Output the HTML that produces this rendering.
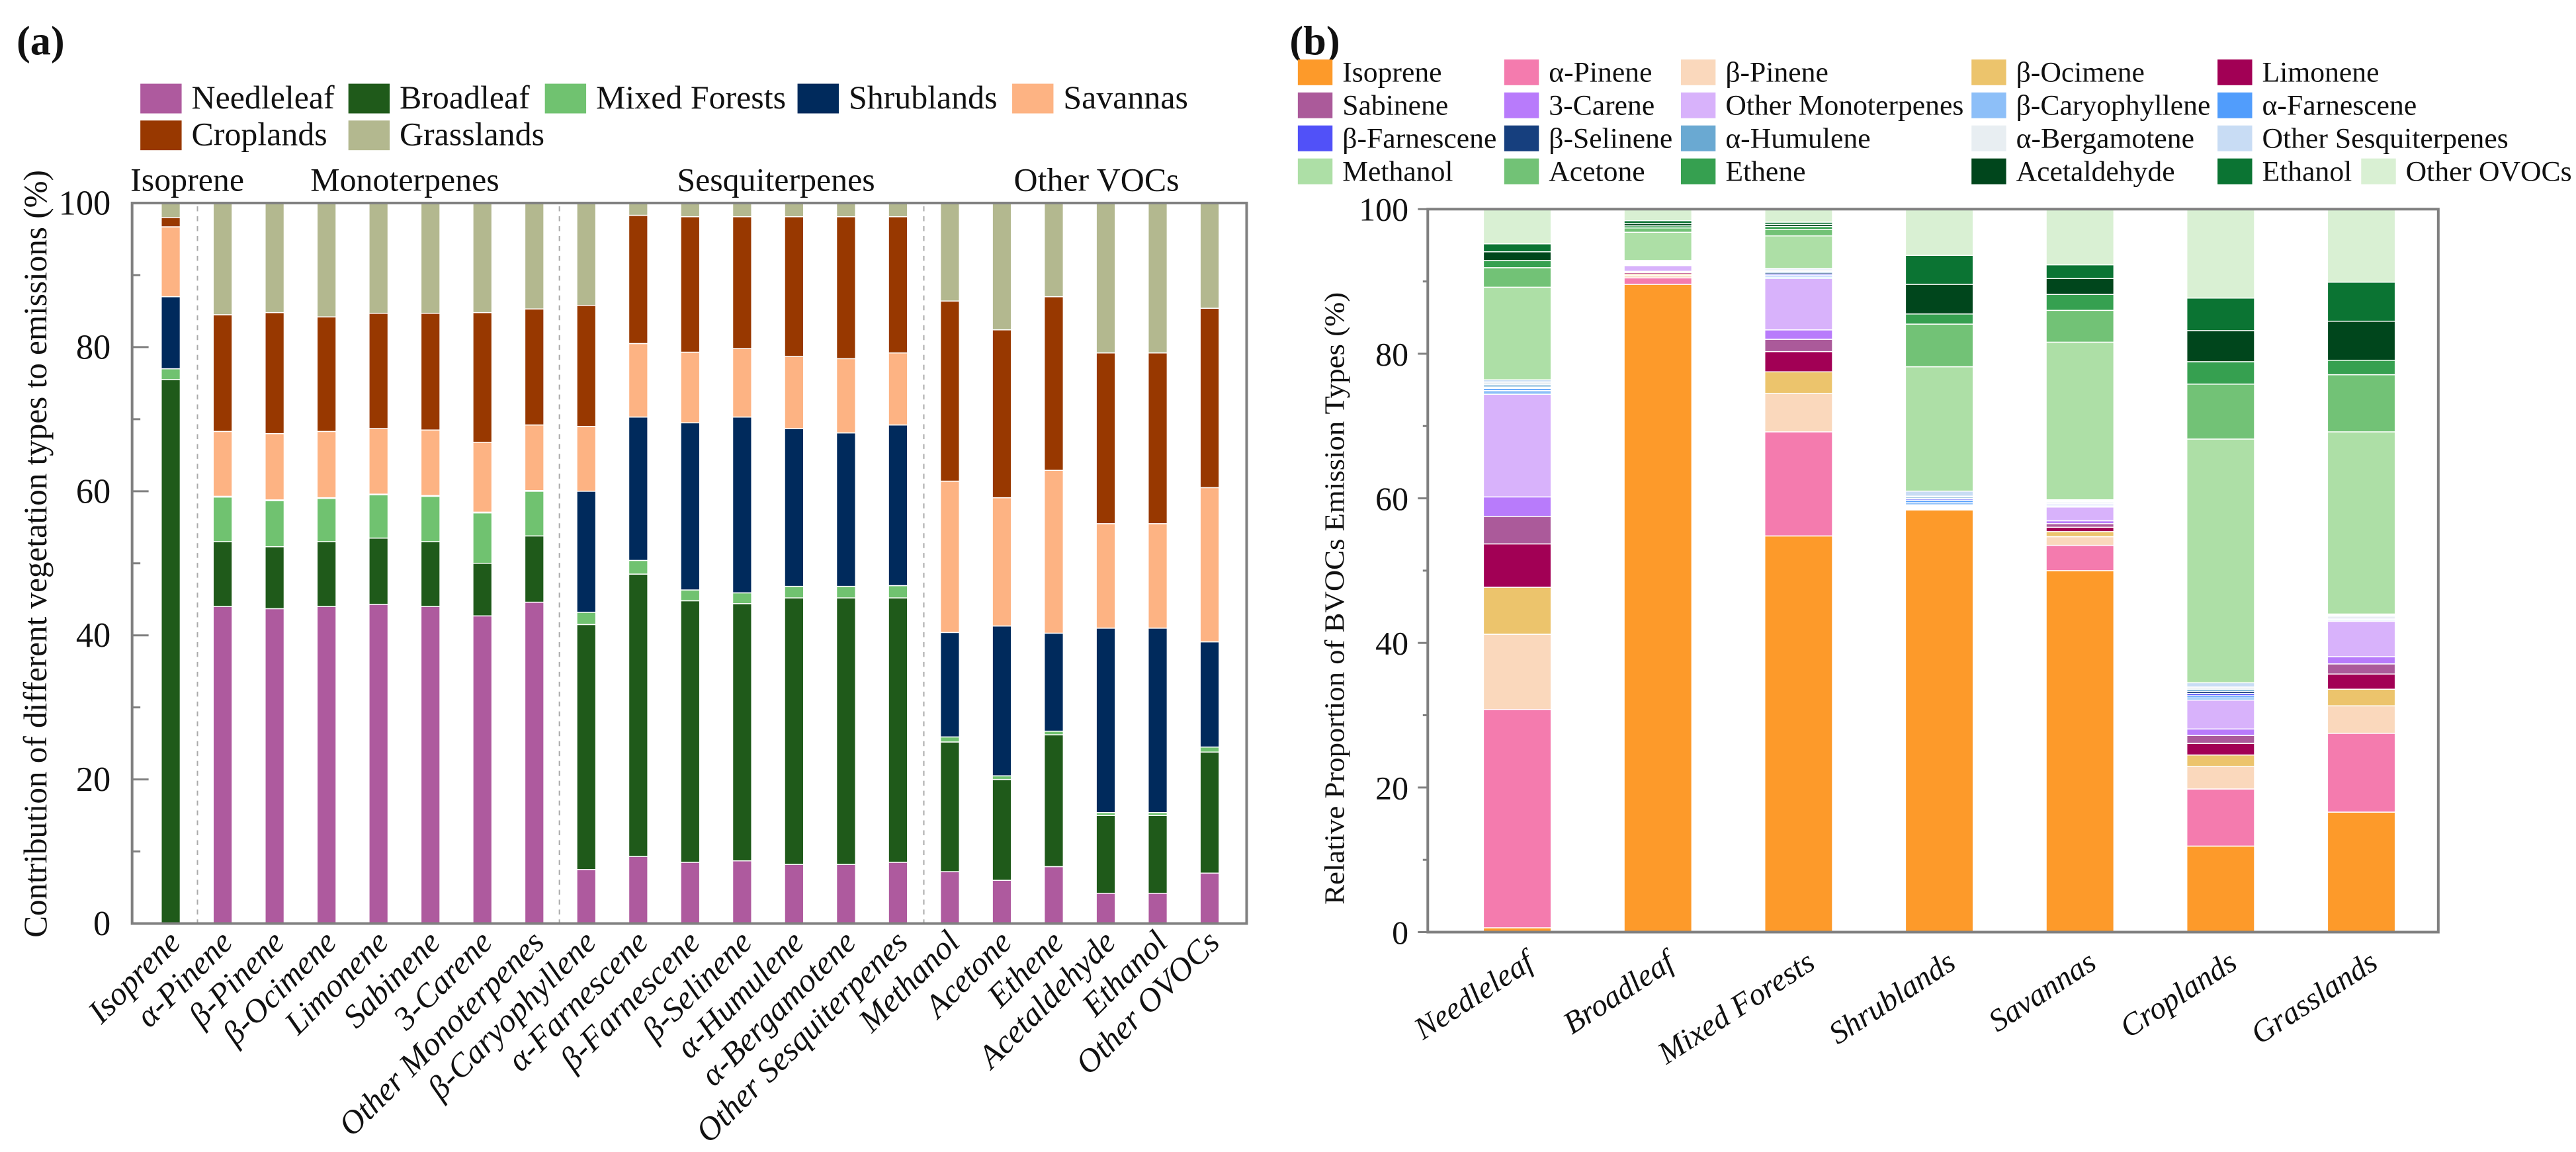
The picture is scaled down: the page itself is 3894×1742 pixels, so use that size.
<!DOCTYPE html>
<html><head><meta charset="utf-8"><style>
html,body{margin:0;padding:0;background:#fff}
svg{display:block}
svg text{font-family:"Liberation Serif","DejaVu Serif",serif;fill:#111}
</style></head><body>
<svg id="s" xmlns="http://www.w3.org/2000/svg" width="3894" height="1742" viewBox="0 0 1560.1 697.9" font-family="'Liberation Serif', 'DejaVu Serif', serif">
<text x="10" y="33" font-size="25" font-weight="bold" font-family="'Liberation Serif', serif">(a)</text>
<text x="781" y="33" font-size="25" font-weight="bold" font-family="'Liberation Serif', serif">(b)</text>
<g id="ga"></g>
<g id="gb"></g>
</svg>
<script>
// ---------- Panel A data ----------
const catsA = ["Isoprene","α-Pinene","β-Pinene","β-Ocimene","Limonene","Sabinene","3-Carene","Other Monoterpenes","β-Caryophyllene","α-Farnescene","β-Farnescene","β-Selinene","α-Humulene","α-Bergamotene","Other Sesquiterpenes","Methanol","Acetone","Ethene","Acetaldehyde","Ethanol","Other OVOCs"];
const vegNames = ["Needleleaf","Broadleaf","Mixed Forests","Shrublands","Savannas","Croplands","Grasslands"];
const needleleaf = [0,44,43.7,44,44.3,44,42.7,44.6,7.5,9.3,8.5,8.7,8.2,8.2,8.5,7.2,6,7.9,4.2,4.2,7];
const broadleaf = [75.5,9,8.6,9,9.2,9,7.3,9.2,34,39.2,36.3,35.7,37,37,36.7,18,14,18.3,10.8,10.8,16.8];
const mixedForests = [1.5,6.2,6.4,6,6,6.3,7,6.2,1.7,1.9,1.5,1.5,1.6,1.6,1.7,0.7,0.5,0.5,0.4,0.4,0.7];
const shrublands = [10,0.1,0.1,0.1,0.1,0.1,0.1,0.1,16.8,19.9,23.2,24.4,21.9,21.3,22.3,14.5,20.8,13.6,25.6,25.6,14.6];
const savannas = [9.7,9,9.2,9.2,9.1,9.1,9.7,9.1,9,10.2,9.8,9.5,10,10.3,10,21,17.8,22.6,14.5,14.5,21.4];
const croplands = [1.3,16.2,16.8,15.9,16,16.2,18,16.1,16.8,17.8,18.8,18.3,19.4,19.7,18.9,25,23.3,24.1,23.7,23.7,24.9];
const grasslands = [2,15.5,15.2,15.8,15.3,15.3,15.2,14.7,14.2,1.7,1.9,1.9,1.9,1.9,1.9,13.6,17.6,13,20.8,20.8,14.6];
const ticksA = [0,20,40,60,80,100];
const groupsA = ["Isoprene","Monoterpenes","Sesquiterpenes","Other VOCs"];

// ---------- Panel B data ----------
const catsB = ["Needleleaf","Broadleaf","Mixed Forests","Shrublands","Savannas","Croplands","Grasslands"];
const speciesNames = ["Isoprene","α-Pinene","β-Pinene","β-Ocimene","Limonene","Sabinene","3-Carene","Other Monoterpenes","β-Caryophyllene","α-Farnescene","β-Farnescene","β-Selinene","α-Humulene","α-Bergamotene","Other Sesquiterpenes","Methanol","Acetone","Ethene","Acetaldehyde","Ethanol","Other OVOCs"];
const isoprene = [0.6,89.6,54.8,58.4,50,11.9,16.6];
const aPinene = [30.2,0.9,14.4,0.1,3.5,7.9,10.9];
const bPinene = [10.4,0.3,5.3,0.1,1.2,3.1,3.8];
const bOcimene = [6.5,0.2,3.0,0.1,0.7,1.6,2.3];
const limonene = [6.0,0.2,2.8,0.1,0.6,1.6,2.1];
const sabinene = [3.8,0.1,1.7,0.1,0.5,1.1,1.4];
const carene = [2.7,0.1,1.3,0.1,0.4,0.9,1.0];
const otherMono = [14.2,0.8,7.1,0.1,1.9,4.0,4.9];
const bCary = [0.5,0.1,0.2,0.3,0.15,0.3,0.15];
const aFarn = [0.3,0.1,0.2,0.3,0.15,0.3,0.15];
const bFarn = [0.1,0.1,0.2,0.2,0.15,0.3,0.15];
const bSel = [0.1,0.1,0.2,0.1,0.15,0.3,0.15];
const aHum = [0.3,0.1,0.2,0.2,0.15,0.3,0.15];
const aBerg = [0.4,0.1,0.2,0.1,0.15,0.3,0.15];
const otherSesq = [0.3,0.1,0.2,0.7,0.1,0.6,0.1];
const methanol = [12.8,3.9,4.5,17.2,21.8,33.7,25.2];
const acetone = [2.7,0.6,0.9,5.9,4.4,7.6,7.9];
const ethene = [1.0,0.3,0.4,1.4,2.2,3.1,2.0];
const acetaldehyde = [1.2,0.3,0.3,4.1,2.2,4.3,5.4];
const ethanol = [1.1,0.4,0.3,4.0,1.9,4.5,5.4];
const otherOVOCs = [4.8,1.6,1.8,6.4,7.7,12.3,10.1];
const ticksB = [0,20,40,60,80,100];

const NS="http://www.w3.org/2000/svg";
const FF="'Liberation Serif', 'DejaVu Serif', serif";
function mk(tag, attrs, parent){const e=document.createElementNS(NS,tag);for(const k in attrs)e.setAttribute(k,attrs[k]);if(tag==='text')e.setAttribute('font-family',FF);parent.appendChild(e);return e;}

// ========== Panel A ==========
(function(){
const g=document.getElementById('ga');
const L=80,R=755,T=123,B=559.5;
const y=v=>B-(B-T)*v/100;
const x=i=>103.4+i*31.46;
const bw=11.5;
const series=[needleleaf,broadleaf,mixedForests,shrublands,savannas,croplands,grasslands];
const cols=["#ae5a9e","#1f5a1a","#70c270","#002a5c","#fdb383","#983800","#b3b88f"];
[119.6,338.8,559.5].forEach(sx=>{
 const l=mk('line',{x1:sx,x2:sx,y1:T+2,y2:B,stroke:"#aaa","stroke-width":0.8,"stroke-dasharray":"3,3"},g);
 
 
});
catsA.forEach((c,i)=>{
 let cum=0;
 series.forEach((s,k)=>{
  const v=s[i];
  const r=mk('rect',{x:x(i)-bw/2,y:y(cum+v),width:bw,height:Math.max(0,y(cum)-y(cum+v)),fill:cols[k],stroke:"#fff","stroke-width":0.6},g);
  
  
  cum+=v;
 });
 const t=mk('text',{x:x(i)+7,y:572,"font-size":20,"font-style":"italic","text-anchor":"end",transform:`rotate(-45 ${x(i)+7} 572)`},g);
 t.textContent=c;
 
 
});
const fr=mk('path',{d:`M${L} ${B} L${L} ${T} L${R} ${T} L${R} ${B} Z`,fill:"none",stroke:"#808080","stroke-width":1.6},g);


for(let v=0;v<=100;v+=10){
 const tk=mk('line',{x1:L,x2:L+(v%20===0?10:5),y1:y(v),y2:y(v),stroke:"#808080","stroke-width":1.2},g);
 
 
}
ticksA.forEach(v=>{
 const t=mk('text',{x:67,y:y(v)+7,"font-size":21,"text-anchor":"end"},g);
 t.textContent=v;
 
 
});
const gx=[79,188,410,614];
groupsA.forEach((n,i)=>{
 const t=mk('text',{x:gx[i],y:115.5,"font-size":20},g);
 t.textContent=n;
 
 
});
const yl=mk('text',{x:28,y:335.5,"font-size":20,"text-anchor":"middle",textLength:465,lengthAdjust:"spacingAndGlyphs",transform:"rotate(-90 28 335.5)"},g);
yl.textContent="Contribution of  different vegetation types to emissions (%)";


const lx=[85,211,330,483,613,85,211], ly=[50.7,50.7,50.7,50.7,50.7,73,73];
vegNames.forEach((n,k)=>{
 const r=mk('rect',{x:lx[k],y:ly[k],width:25,height:18,fill:cols[k]},g);
 
 
 const t=mk('text',{x:lx[k]+31,y:ly[k]+15,"font-size":20},g);
 t.textContent=n;
 
 
});
})();

// ========== Panel B ==========
(function(){
const g=document.getElementById('gb');
const L=864.7,R=1476.7,T=126.7,B=564.7;
const y=v=>B-(B-T)*v/100;
const x=i=>918.9+i*85.2;
const bw=41;
const series=[isoprene,aPinene,bPinene,bOcimene,limonene,sabinene,carene,otherMono,bCary,aFarn,bFarn,bSel,aHum,aBerg,otherSesq,methanol,acetone,ethene,acetaldehyde,ethanol,otherOVOCs];
const cols=["#fd9a2a","#f47bae","#fad8bc","#ecc46c","#a20055","#ab5a9a","#b87bfb","#d8b2fb","#8dbff8","#519dfc","#5151f8","#163f7e","#6aa9d2","#e8eef2","#c8dcf4","#addfa6","#72c276","#36a050","#00461c","#0b7433","#d9f0d3"];
catsB.forEach((c,i)=>{
 let cum=0;
 series.forEach((s,k)=>{
  const v=s[i];
  const r=mk('rect',{x:x(i)-bw/2,y:y(cum+v),width:bw,height:Math.max(0,y(cum)-y(cum+v)),fill:cols[k],stroke:"#fff","stroke-width":0.6},g);
  
  
  cum+=v;
 });
 const t=mk('text',{x:x(i)+11,y:586,"font-size":19,"font-style":"italic","text-anchor":"end",transform:`rotate(-33 ${x(i)+11} 586)`},g);
 t.textContent=c;
 
 
});
const fr=mk('path',{d:`M${L} ${B} L${L} ${T} L${R} ${T} L${R} ${B} Z`,fill:"none",stroke:"#808080","stroke-width":1.6},g);


for(let v=0;v<=100;v+=10){
 const tk=mk('line',{x1:L-(v%20===0?6:3),x2:L,y1:y(v),y2:y(v),stroke:"#808080","stroke-width":1.2},g);
 
 
}
ticksB.forEach(v=>{
 const t=mk('text',{x:853,y:y(v)+7,"font-size":20,"text-anchor":"end"},g);
 t.textContent=v;
 
 
});
const yl=mk('text',{x:814,y:362.5,"font-size":17,"text-anchor":"middle",textLength:371,lengthAdjust:"spacingAndGlyphs",transform:"rotate(-90 814 362.5)"},g);
yl.textContent="Relative Proportion of  BVOCs Emission Types (%)";


const cx=[786,911,1018,1194,1343,1430], ry=[36,56,76,96];
speciesNames.forEach((n,k)=>{
 const row=k<20?Math.floor(k/5):3, col=k<20?k%5:5;
 const sx=cx[col], sy=ry[row];
 const r=mk('rect',{x:sx,y:sy,width:21,height:15.6,fill:cols[k]},g);
 
 
 const t=mk('text',{x:sx+27,y:sy+13.5,"font-size":17.5},g);
 t.textContent=n;
 
 
});
})();
</script>
</body></html>
